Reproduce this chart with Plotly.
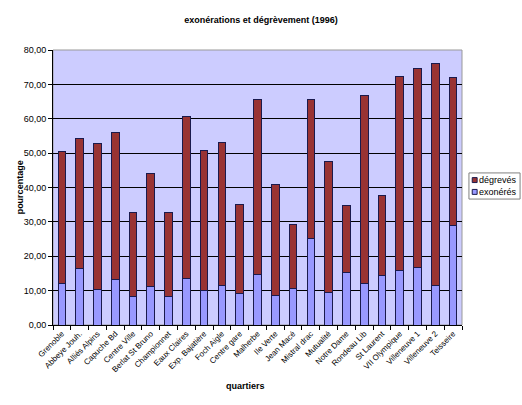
import plotly.graph_objects as go

quartiers = ["Grenoble", "Abbeye Jouh.", "Alliés Alpins", "Capuche Bd", "Centre Ville",
             "Berlat St Bruno", "Championnet", "Eaux Claires", "Exp. Bajatière", "Foch Aigle",
             "Centre gare", "Malherbe", "Ile Verte", "Jean Macé", "Mistral drac", "Mutualité",
             "Notre Dame", "Rondeau Lib", "St Laurent", "VII Olympique", "Villeneuve 1",
             "Villeneuve 2", "Teisseire"]
totaux = [50.6, 54.4, 52.9, 56.1, 32.6, 44.1, 32.6, 60.7, 50.9, 53.0, 35.2, 65.7, 40.8,
          29.1, 65.7, 47.6, 34.7, 66.8, 37.6, 72.3, 74.7, 76.2, 72.1]
exoneres = [12.1, 16.3, 10.2, 13.3, 8.2, 11.2, 8.2, 13.5, 10.0, 11.4, 9.2, 14.7, 8.6,
            10.7, 25.2, 9.4, 15.2, 12.1, 14.5, 16.0, 16.7, 11.5, 29.0]
degreves = [round(t - e, 2) for t, e in zip(totaux, exoneres)]
y_ticks = [0, 10, 20, 30, 40, 50, 60, 70, 80]

font = "Liberation Sans, Arial, sans-serif"
c_exo = "#9999FF"
c_deg = "#993333"
c_edge = "#1a1a4d"

fig = go.Figure()
fig.add_trace(go.Bar(x=quartiers, y=exoneres, name="exonérés",
                     marker=dict(color=c_exo, line=dict(color=c_edge, width=1))))
fig.add_trace(go.Bar(x=quartiers, y=degreves, name="dégrevés",
                     marker=dict(color=c_deg, line=dict(color=c_edge, width=1))))

fig.update_layout(
    barmode="stack",
    bargap=0.57,
    width=522, height=405,
    margin=dict(l=53, r=60, t=50, b=80),
    paper_bgcolor="white",
    plot_bgcolor="#CCCCFF",
    separators=", ",
    font=dict(family=font, size=9, color="black"),
    title=dict(text="<b>exonérations et dégrèvement (1996)</b>", x=0.5, xanchor="center",
               y=0.95, yanchor="middle", font=dict(size=9, family=font)),
    showlegend=False,
)
fig.update_xaxes(tickangle=-45, tickson="boundaries", ticks="outside", ticklen=4,
                 tickcolor="black", showline=True, linecolor="black", linewidth=1,
                 mirror=False, tickfont=dict(size=8))
fig.update_yaxes(range=[0, 80], tickvals=y_ticks, tickformat=".2f", ticks="outside",
                 ticklen=4, tickcolor="black", showline=True, linecolor="black",
                 showgrid=True, gridcolor="#000000", gridwidth=1, zeroline=False)
fig.add_shape(type="rect", xref="paper", yref="paper", x0=0, x1=1, y0=0, y1=1,
              line=dict(color="#999999", width=1), layer="below")
fig.add_annotation(text="<b>quartiers</b>", xref="paper", yref="paper", x=0.47, y=-0.22,
                   yanchor="middle", showarrow=False, font=dict(size=9))
fig.add_annotation(text="<b>pourcentage</b>", xref="paper", yref="paper", x=-0.081, y=0.5,
                   textangle=-90, xanchor="center", yanchor="middle", showarrow=False,
                   font=dict(size=9))

# hand-drawn legend (compact, like the original)
fig.add_shape(type="rect", xref="paper", yref="paper", x0=1.017, x1=1.142, y0=0.458, y1=0.553,
              line=dict(color="#808080", width=1), fillcolor="white")
legend_items = [("dégrevés", c_deg, 0.527), ("exonérés", c_exo, 0.484)]
for name, col, yc in legend_items:
    fig.add_shape(type="rect", xref="paper", yref="paper", x0=1.025, x1=1.037,
                  y0=yc - 0.009, y1=yc + 0.009, line=dict(color=c_edge, width=1), fillcolor=col)
    fig.add_annotation(text=name, xref="paper", yref="paper", x=1.041, y=yc,
                       xanchor="left", yanchor="middle", showarrow=False,
                       font=dict(size=9), xshift=-2)
fig.write_html("out.html")
